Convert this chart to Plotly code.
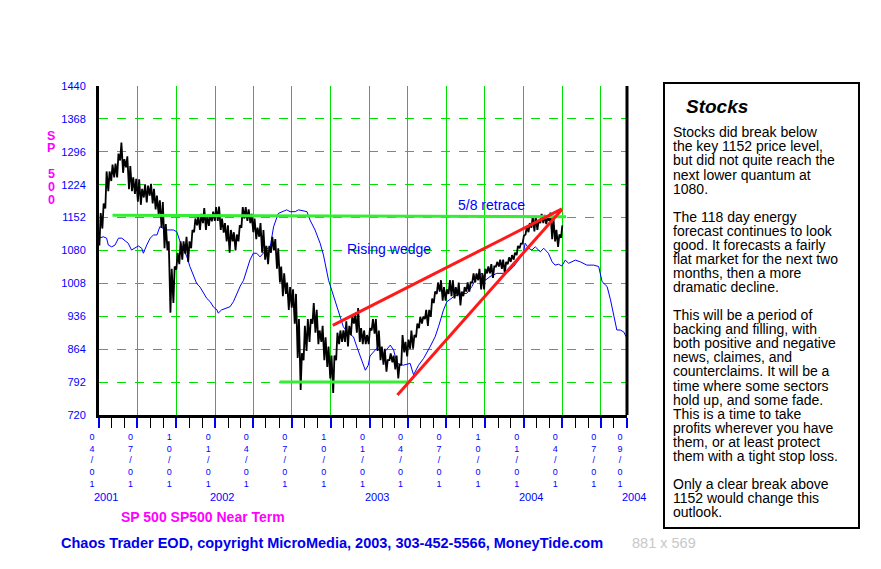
import plotly.graph_objects as go
import pandas as pd

# plot box in pixels (left, right, top, bottom) of the 881x569 page
W, H = 881, 569
L, R, T, B = 99, 627, 86, 415
OFF = 8  # the page body margin shifts the figure by this much
FONT = "Liberation Sans, Arial, sans-serif"
GREEN = "#00e000"
BLUE = "#0000ff"


def px_x(x):
    return (x - L) / (R - L)


def px_y(y):
    return (B - y) / (B - T)


# weekly low / high of the SP 500 (weeks start 2001-04-02)
low_2001 = [1091, 1128, 1172, 1210, 1232, 1240, 1240, 1277, 1250, 1262, 1214, 1210, 1204,
            1187, 1180, 1196, 1185, 1200, 1183, 1170, 1160, 1130, 1085, 1080, 944, 965,
            1038, 1050, 1060, 1073, 1055, 1085, 1120, 1135, 1125, 1140, 1125, 1134, 1144, 1145]
high_2001 = [1162, 1183, 1253, 1253, 1268, 1270, 1292, 1316, 1280, 1286, 1265, 1240, 1237,
             1236, 1215, 1225, 1222, 1226, 1215, 1200, 1190, 1186, 1138, 1100, 1040, 1045,
             1075, 1100, 1100, 1110, 1100, 1125, 1150, 1155, 1160, 1173, 1155, 1158, 1165, 1175]
low_2002 = [1145, 1125, 1119, 1100, 1075, 1100, 1080, 1100, 1130, 1150, 1145, 1140,
            1120, 1105, 1110, 1075, 1060, 1050, 1075, 1080, 1040, 1010, 980, 985, 950,
            955, 920, 845, 775, 840, 860, 880, 920, 900, 875, 880, 840, 825, 800,
            768, 840, 875, 880, 880, 870, 895, 920, 900, 880, 875, 875, 875]
high_2002 = [1176, 1150, 1140, 1135, 1125, 1120, 1115, 1135, 1175, 1175, 1170, 1160,
             1150, 1130, 1140, 1125, 1090, 1090, 1110, 1105, 1085, 1045, 1030, 1010, 1000,
             995, 985, 930, 855, 915, 930, 930, 965, 950, 905, 915, 890, 870, 850,
             850, 900, 905, 905, 925, 915, 935, 940, 954, 910, 905, 895, 910]
low_2003 = [905, 898, 860, 840, 830, 815, 840, 835, 820, 800, 830, 857, 848,
            865, 865, 890, 910, 920, 930, 915, 935, 965, 985, 990, 970, 970,
            985, 980, 975, 980, 960, 980, 990, 990, 1010, 1010, 1015, 995, 995,
            1030, 1030, 1020, 1045, 1045, 1040, 1030, 1050, 1055, 1060, 1070, 1085, 1095]
high_2003 = [930, 930, 905, 870, 865, 840, 855, 850, 850, 830, 895, 880, 885,
             905, 895, 920, 935, 935, 950, 950, 975, 990, 1010, 1015, 1000, 995,
             1015, 1015, 1000, 1010, 990, 1000, 1010, 1010, 1030, 1030, 1040, 1030, 1040,
             1045, 1050, 1045, 1055, 1060, 1060, 1055, 1065, 1070, 1075, 1090, 1095, 1112]
low_2004 = [1115, 1120, 1130, 1122, 1125, 1140, 1140, 1138, 1145, 1105, 1100, 1088, 1108]
high_2004 = [1132, 1140, 1155, 1155, 1145, 1160, 1158, 1152, 1163, 1150, 1125, 1115, 1135]

# energy forecast curve (days after 2001-04-01, value)
energy_day = [0, 10, 18, 22, 30, 38, 46, 54, 62, 69, 77, 85, 93, 101, 105, 113, 121, 129, 137,
              144, 152, 160, 176, 184, 192, 200, 208, 215, 223, 231, 239, 247, 255, 263, 271,
              279, 282, 290, 302, 310, 318, 326, 334, 342, 350, 357, 365, 373, 381, 389, 397,
              405, 413, 424, 436, 444, 452, 464, 472, 492, 499, 511, 523, 531, 543, 555, 563,
              578, 590, 602, 610, 622, 630, 637, 641, 657, 673, 689, 697, 705, 720, 736, 744,
              756, 768, 783, 795, 803, 815, 823, 839, 855, 870, 882, 894, 906, 914, 925, 941,
              957, 969, 981, 992, 1004, 1008, 1016, 1024, 1032, 1044, 1052, 1063, 1072, 1079,
              1087, 1095, 1103, 1111, 1127, 1139, 1154, 1170, 1182, 1190, 1202, 1210, 1217,
              1225, 1233, 1241, 1249]
energy_val = [1107, 1110, 1107, 1092, 1088, 1092, 1107, 1107, 1101, 1096, 1081, 1085, 1090,
              1085, 1074, 1092, 1107, 1114, 1114, 1132, 1129, 1125, 1125, 1121, 1099, 1083,
              1066, 1045, 1026, 1008, 1000, 986, 975, 968, 956, 950, 943, 950, 954, 957, 968,
              986, 1002, 1015, 1037, 1059, 1074, 1074, 1066, 1074, 1083, 1088, 1132, 1161,
              1165, 1169, 1165, 1165, 1169, 1165, 1147, 1125, 1096, 1070, 1015, 979, 957, 913,
              899, 891, 869, 840, 818, 829, 849, 866, 855, 873, 862, 833, 829, 833, 808, 829,
              844, 869, 891, 913, 950, 968, 979, 986, 986, 1001, 1023, 1030, 1015, 1023, 1030,
              1030, 1034, 1045, 1059, 1074, 1096, 1085, 1081, 1088, 1077, 1085, 1074, 1055,
              1048, 1050, 1046, 1059, 1052, 1059, 1055, 1048, 1048, 1045, 1012, 1001, 972, 939,
              906, 906, 902, 888]

# drawn trend lines
retrace_dates = ["2001-05-03", "2004-04-10"]
retrace_vals = [1157, 1154]
support_dates = ["2002-06-02", "2003-04-06"]
support_vals = [792, 792]
wedge_top_dates = ["2002-10-06", "2004-03-31"]
wedge_top_vals = [916, 1171]
wedge_bot_dates = ["2003-03-08", "2004-03-31"]
wedge_bot_vals = [764, 1170]

tick_dates = ["2001-04-01", "2001-07-01", "2001-10-01", "2002-01-01", "2002-04-01",
              "2002-07-01", "2002-10-01", "2003-01-01", "2003-04-01", "2003-07-01",
              "2003-10-01", "2004-01-01", "2004-04-01", "2004-07-01", "2004-09-01"]
year_dates = ["2001-04-01", "2002-01-01", "2003-01-01", "2004-01-01", "2004-09-01"]
year_text = ["2001", "2002", "2003", "2004", "2004"]

side_label = ["S", "P", "", "5", "0", "0"]

box_lines = [
    "Stocks did break below", "the key 1152 price level,", "but did not quite reach the",
    "next lower quantum at", "1080.", "",
    "The 118 day energy", "forecast continues to look", "good. It forecasts a fairly",
    "flat market for the next two", "months, then a more", "dramatic decline.", "",
    "This will be a period of", "backing and filling, with", "both positive and negative",
    "news, claimes, and", "counterclaims. It will be a", "time where some sectors",
    "hold up, and some fade.", "This is a time to take", "profits wherever you have",
    "them, or at least protect", "them with a tight stop loss.", "",
    "Only a clear break above", "1152 would change this", "outlook.",
]

wk_low = low_2001 + low_2002 + low_2003 + low_2004
wk_high = high_2001 + high_2002 + high_2003 + high_2004
weeks = pd.date_range("2001-04-02", periods=len(wk_low), freq="7D")
zx, zy = [], []
for d, lo, hi in zip(weeks, wk_low, wk_high):
    zx += [d, d + pd.Timedelta(days=3)]
    zy += [lo, hi]

energy_x = pd.Timestamp("2001-04-01") + pd.to_timedelta(energy_day, unit="D")

fig = go.Figure()
fig.add_trace(go.Scatter(x=energy_x, y=energy_val, mode="lines",
                         line=dict(color=BLUE, width=1)))
fig.add_trace(go.Scatter(x=zx, y=zy, mode="lines",
                         line=dict(color="black", width=1.8)))
for xs, ys, col in [(retrace_dates, retrace_vals, "#33ee33"),
                    (support_dates, support_vals, "#33ee33"),
                    (wedge_top_dates, wedge_top_vals, "#ff1a1a"),
                    (wedge_bot_dates, wedge_bot_vals, "#ff1a1a")]:
    fig.add_trace(go.Scatter(x=xs, y=ys, mode="lines", line=dict(color=col, width=3)))

ticktext = ["<br>".join(pd.Timestamp(d).strftime("%m/%d")) for d in tick_dates]

fig.update_xaxes(
    type="date", range=["2001-04-01", "2004-09-01"],
    tickvals=tick_dates, ticktext=ticktext,
    ticks="outside", ticklen=10, tickwidth=1.5, tickcolor=BLUE,
    tickfont=dict(family=FONT, size=9, color=BLUE),
    ticklabelshift=-7, ticklabelstandoff=1,
    showgrid=True, gridcolor=GREEN, gridwidth=1,
    minor=dict(dtick="M1", tick0="2001-04-01", ticks="outside", ticklen=10,
               tickwidth=1.2, tickcolor="black", showgrid=False),
    showline=True, linecolor="black", linewidth=3, zeroline=False,
)
fig.update_yaxes(
    range=[720, 1440], tick0=720, dtick=72,
    tickfont=dict(family=FONT, size=11, color=BLUE),
    ticks="", ticklabelstandoff=8,
    showgrid=True, gridcolor=GREEN, gridwidth=1, griddash="dash",
    showline=True, linecolor="black", linewidth=3, zeroline=False,
)


def note(x, y, text, size, color, xanchor="left", yanchor="middle"):
    return dict(x=px_x(x), y=px_y(y), xref="paper", yref="paper", text=text,
                showarrow=False, xanchor=xanchor, yanchor=yanchor,
                font=dict(family=FONT, size=size, color=color))


ann = []
for d, t in zip(year_dates, year_text):
    ann.append(dict(x=d, xref="x", y=0, yref="paper", text=t, showarrow=False,
                    xanchor="left", yanchor="middle", xshift=-7, yshift=-82,
                    font=dict(family=FONT, size=11, color=BLUE)))
ann.append(dict(x="2003-10-16", y=1180, text="5/8 retrace", showarrow=False,
                xanchor="center", yanchor="middle",
                font=dict(family=FONT, size=14, color=BLUE)))
ann.append(dict(x="2003-02-16", y=1083, text="Rising wedge", showarrow=False,
                xanchor="center", yanchor="middle",
                font=dict(family=FONT, size=14, color=BLUE)))
for i, ch in enumerate(side_label):
    if ch:
        ann.append(note(51, 135.5 + i * 12.8, "<b>" + ch + "</b>", 12.5, "#ff00ff",
                        xanchor="center"))
ann.append(note(119, 517, "<b>SP 500 SP500 Near Term</b>", 14, "#ff00ff"))
ann.append(note(59, 543, "<b>Chaos Trader EOD, copyright MicroMedia, 2003, "
                         "303-452-5566, MoneyTide.com</b>", 14.5, "#0000ee"))
ann.append(note(630, 543, "881 x 569", 14.5, "#c8c8c8"))
ann.append(note(684, 106, "<b><i>Stocks</i></b>", 19, "black"))
for i, line in enumerate(box_lines):
    if line:
        ann.append(note(671, 132.3 + i * 14.07, line, 14, "black"))

fig.update_layout(
    width=W - 2 * OFF, height=H - 2 * OFF, showlegend=False,
    paper_bgcolor="white", plot_bgcolor="white",
    margin=dict(l=L - OFF, r=W - OFF - R, t=T - OFF, b=H - OFF - B, pad=0),
    font=dict(family=FONT),
    annotations=ann,
    shapes=[
        dict(type="line", xref="paper", yref="paper", x0=1, x1=1, y0=0, y1=1,
             line=dict(color="black", width=3)),
        dict(type="rect", xref="paper", yref="paper", x0=px_x(664), x1=px_x(859),
             y0=px_y(528), y1=px_y(83), line=dict(color="black", width=2)),
    ],
)

fig.write_html("out.html")
